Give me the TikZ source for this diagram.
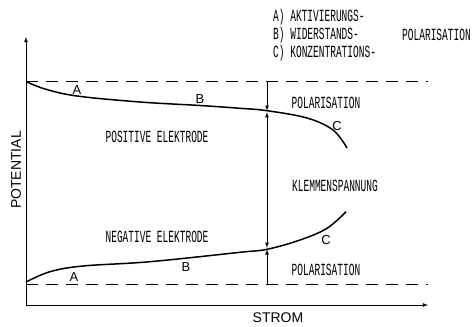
\documentclass[tikz,border=0pt]{standalone}
\usepackage{fontspec}
\newfontfamily\typfont[FakeStretch=0.56]{Liberation Mono}
\newfontfamily\sansfnt{Liberation Sans}
\usetikzlibrary{arrows}

\begin{document}
\begin{tikzpicture}[x=1pt,y=-1pt]
\tikzstyle{txt}=[inner sep=0pt, font=\typfont\fontsize{17}{17}\selectfont]
\tikzstyle{lbl}=[inner sep=0pt, font=\sansfnt\fontsize{13}{13}\selectfont]
\tikzstyle{axlbl}=[inner sep=0pt, font=\sansfnt\fontsize{14}{14}\selectfont]
\tikzstyle{curve}=[line width=1.5pt]
\tikzstyle{level}=[line width=0.9pt, dash pattern=on 12pt off 8pt]
\tikzstyle{marker}=[line width=0.8pt, -latex]
\useasboundingbox (0,0) rectangle (472,327);
\fill[white] (0,0) rectangle (472,327);
% axes
\coordinate (o) at (26,305);
\coordinate (ytop) at (26,37);
\coordinate (xend) at (428,305);
\draw[marker] (o) -- (ytop);
\draw[marker] (o) -- (xend);
\node (pot) [axlbl, rotate=90] at (16,170) {POTENTIAL};
\node (strom) [axlbl] at (278,318) {STROM};
% rest potentials
\coordinate (ptop) at (26,81.5);
\coordinate (ptopr) at (428,81.5);
\coordinate (pbot) at (26,284);
\coordinate (pbotr) at (428,284);
\draw[level] (ptop) -- (ptopr);
\draw[level] (pbot) -- (pbotr);
% electrode curves
\draw[curve] plot[smooth, tension=0.6] coordinates {(26,81.5) (45,89) (77,96) (140,102) (200,105.5) (240,108.3) (267,110.7) (307,118) (333,130) (347,148)};
\draw[curve] plot[smooth, tension=0.6] coordinates {(26,282) (50,271.7) (83,266) (150,261.7) (240,252.3) (267,249.3) (300,240) (327,228.3) (346,211.7)};
\node (pa) [lbl] at (77,90) {A};
\node (pb) [lbl] at (200,99.5) {B};
\node (pcc) [lbl] at (337,126.5) {C};
\node (na) [lbl] at (74,277) {A};
\node (nb) [lbl] at (186,267.5) {B};
\node (ncc) [lbl] at (326,240) {C};
% polarisation and terminal voltage
\coordinate (pd) at (267,81.5);
\coordinate (pc) at (267,110.7);
\coordinate (nc) at (267,249.3);
\coordinate (nd) at (267,284);
\draw[marker] (pd) -- (pc);
\draw[marker] (nd) -- (nc);
\draw[line width=0.8pt, latex-latex, shorten <=1.5pt, shorten >=1.5pt] (pc) -- (nc);
\node (pol1) [txt] at (326,103) {POLARISATION};
\node (pol2) [txt] at (326,270) {POLARISATION};
\node (klemm) [txt] at (335,186) {KLEMMENSPANNUNG};
\node (pos) [txt] at (157,137) {POSITIVE ELEKTRODE};
\node (neg) [txt] at (157,237) {NEGATIVE ELEKTRODE};
% legend
\node (la) [txt, anchor=west] at (273,17) {A) AKTIVIERUNGS-};
\node (lb) [txt, anchor=west] at (273,35) {B) WIDERSTANDS-};
\node (lc) [txt, anchor=west] at (273,53) {C) KONZENTRATIONS-};
\node (lpol) [txt, anchor=west] at (402,35) {POLARISATION};
\end{tikzpicture}
\end{document}
